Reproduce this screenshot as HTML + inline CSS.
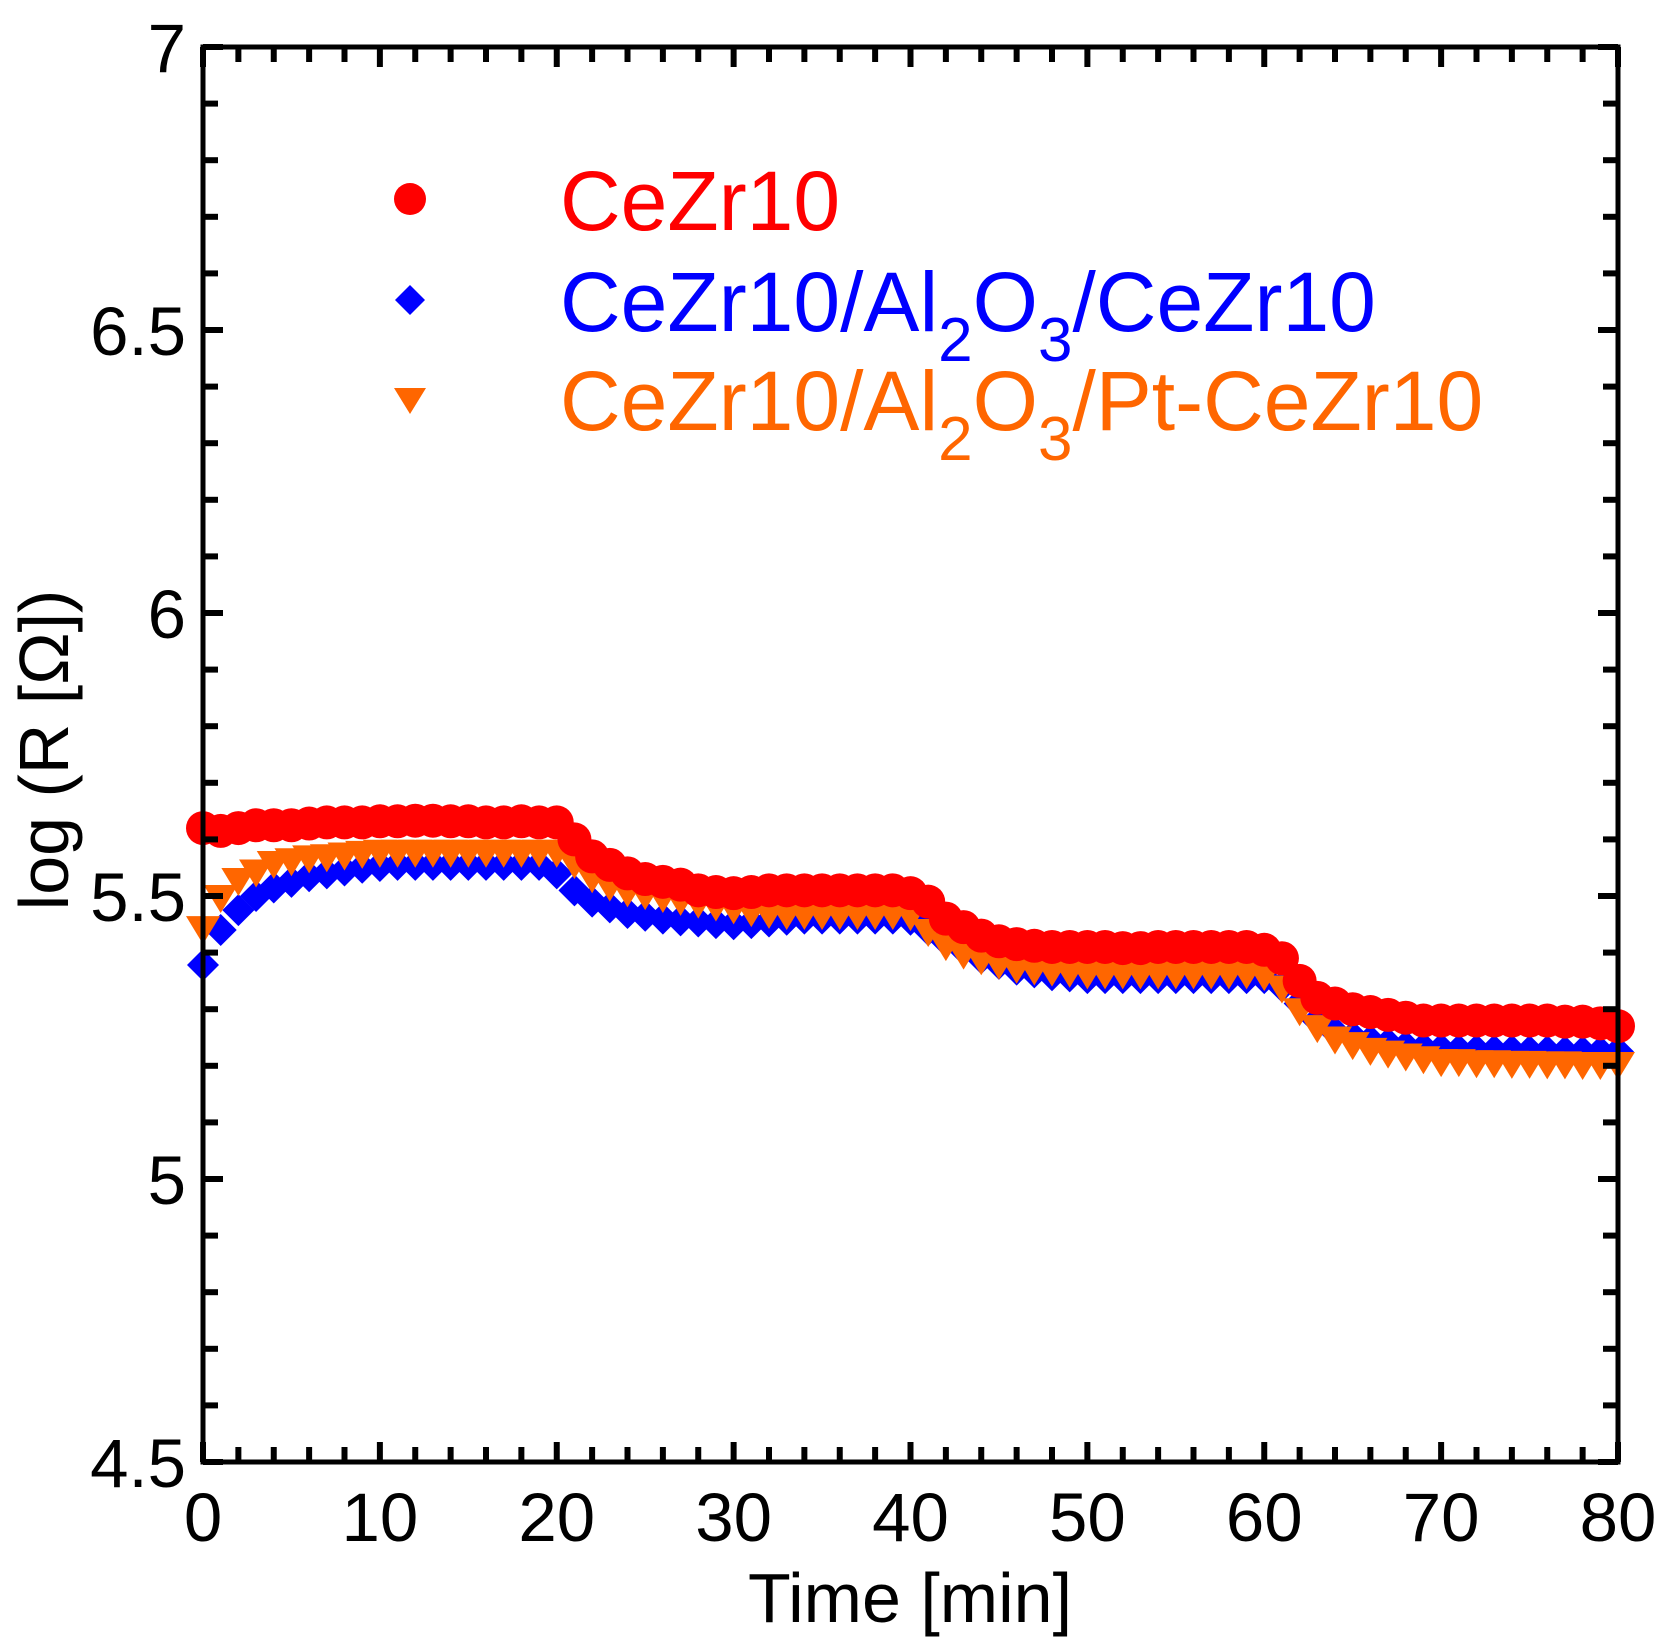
<!DOCTYPE html>
<html><head><meta charset="utf-8"><style>
html,body{margin:0;padding:0;background:#fff;}
svg{display:block;font-family:"Liberation Sans",Arial,sans-serif;}
</style></head><body>
<svg id="chart" width="1666" height="1643" viewBox="0 0 1666 1643" xmlns="http://www.w3.org/2000/svg">
<g id="marks"></g>
<g id="axes"></g>
<g id="legend">
  <circle cx="410" cy="199" r="16" fill="#ff0000"/>
  <text x="560" y="230" font-size="84" fill="#ff0000">CeZr10</text>
  <polygon points="410,285 425,300 410,315 395,300" fill="#0000ff"/>
  <text x="560" y="331" font-size="84" fill="#0000ff">CeZr10/Al<tspan font-size="62" dy="30">2</tspan><tspan dy="-30">O</tspan><tspan font-size="62" dy="30">3</tspan><tspan dy="-30">/CeZr10</tspan></text>
  <polygon points="394,388 426,388 410,414" fill="#ff6600"/>
  <text x="560" y="430" font-size="84" fill="#ff6600">CeZr10/Al<tspan font-size="62" dy="30">2</tspan><tspan dy="-30">O</tspan><tspan font-size="62" dy="30">3</tspan><tspan dy="-30">/Pt-CeZr10</tspan></text>
</g>
<text x="910" y="1622" font-size="70" text-anchor="middle">Time [min]</text>
<text transform="translate(68,750) rotate(-90)" font-size="70" text-anchor="middle">log (R [Ω])</text>
</svg>
<script>
const times = [];
for (let t = 0; t <= 80; t++) times.push(t);
const redVals = [5.62,5.615,5.62,5.625,5.625,5.625,5.628,5.63,5.63,5.63,5.632,5.632,5.633,5.633,5.632,5.632,5.63,5.63,5.632,5.63,5.63,5.6,5.57,5.555,5.54,5.53,5.525,5.52,5.51,5.507,5.505,5.507,5.51,5.51,5.51,5.51,5.51,5.51,5.51,5.51,5.505,5.49,5.46,5.445,5.43,5.42,5.415,5.412,5.41,5.41,5.41,5.41,5.408,5.408,5.41,5.41,5.41,5.41,5.41,5.41,5.405,5.39,5.35,5.32,5.31,5.3,5.295,5.29,5.285,5.28,5.28,5.28,5.28,5.28,5.28,5.28,5.28,5.278,5.278,5.275,5.27];
const blueVals = [5.378,5.44,5.475,5.5,5.515,5.525,5.535,5.54,5.545,5.55,5.553,5.555,5.555,5.555,5.555,5.555,5.555,5.555,5.555,5.555,5.54,5.51,5.49,5.48,5.47,5.465,5.46,5.457,5.455,5.452,5.45,5.452,5.455,5.458,5.46,5.46,5.46,5.46,5.46,5.46,5.458,5.44,5.42,5.405,5.39,5.38,5.37,5.365,5.36,5.358,5.355,5.355,5.355,5.355,5.355,5.355,5.355,5.355,5.355,5.355,5.355,5.34,5.31,5.28,5.26,5.252,5.245,5.24,5.235,5.232,5.23,5.228,5.228,5.227,5.227,5.226,5.226,5.225,5.225,5.225,5.225];
const orangeVals = [5.445,5.5,5.53,5.545,5.56,5.565,5.57,5.572,5.575,5.578,5.58,5.58,5.58,5.58,5.58,5.58,5.58,5.58,5.58,5.58,5.58,5.56,5.535,5.52,5.51,5.505,5.5,5.495,5.49,5.485,5.48,5.475,5.472,5.47,5.47,5.47,5.47,5.47,5.47,5.47,5.468,5.44,5.415,5.4,5.39,5.382,5.375,5.372,5.37,5.368,5.365,5.365,5.365,5.365,5.365,5.365,5.365,5.365,5.365,5.365,5.362,5.34,5.3,5.27,5.25,5.24,5.23,5.225,5.22,5.215,5.21,5.21,5.208,5.208,5.207,5.207,5.206,5.206,5.205,5.205,5.205];
const xTicks = [0,10,20,30,40,50,60,70,80];
const yTicks = [4.5,5,5.5,6,6.5,7];
const yTickLabels = ["4.5","5","5.5","6","6.5","7"];

const X0=203, X1=1618, Y0=1462, Y1=47;
const xs = v => X0 + (v-0)/(80-0)*(X1-X0);
const ys = v => Y0 - (v-4.5)/(7-4.5)*(Y0-Y1);
const NS="http://www.w3.org/2000/svg";
const marks=document.getElementById('marks'), axes=document.getElementById('axes');
function mk(tag, attrs, parent){const e=document.createElementNS(NS,tag);for(const k in attrs)e.setAttribute(k,attrs[k]);parent.appendChild(e);return e;}

times.forEach((t,i)=>{const x=xs(t),y=ys(blueVals[i]);
 const e=mk('polygon',{points:`${x},${y-16} ${x+16},${y} ${x},${y+16} ${x-16},${y}`,fill:'#0000ff'},marks);
 
 });
times.forEach((t,i)=>{const x=xs(t),y=ys(orangeVals[i]);
 const e=mk('polygon',{points:`${x-17},${y-11} ${x+17},${y-11} ${x},${y+17}`,fill:'#ff6600'},marks);
 
 });
times.forEach((t,i)=>{
 const e=mk('circle',{cx:xs(t),cy:ys(redVals[i]),r:17,fill:'#ff0000'},marks);
 
 });

const fr=mk('rect',{x:X0,y:Y1,width:X1-X0,height:Y0-Y1,fill:'none',stroke:'#000','stroke-width':5},axes);


for(let v=0;v<=80;v+=2){const x=xs(v);const L=(v%10===0)?20:15;
 mk('line',{x1:x,y1:Y0,x2:x,y2:Y0-L,stroke:'#000','stroke-width':6},axes);
 mk('line',{x1:x,y1:Y1,x2:x,y2:Y1+L,stroke:'#000','stroke-width':6},axes);}
for(let k=0;k<=25;k++){const v=4.5+k*0.1;const y=ys(v);const L=(k%5===0)?20:15;
 mk('line',{x1:X0,y1:y,x2:X0+L,y2:y,stroke:'#000','stroke-width':6},axes);
 mk('line',{x1:X1,y1:y,x2:X1-L,y2:y,stroke:'#000','stroke-width':6},axes);}
xTicks.forEach(v=>{const t=mk('text',{x:xs(v),y:1541,'font-size':69,'text-anchor':'middle'},axes);t.textContent=v;
 
 });
yTicks.forEach((v,i)=>{const t=mk('text',{x:186,y:ys(v)+25,'font-size':69,'text-anchor':'end'},axes);t.textContent=yTickLabels[i];
 
 });
</script>
</body></html>
